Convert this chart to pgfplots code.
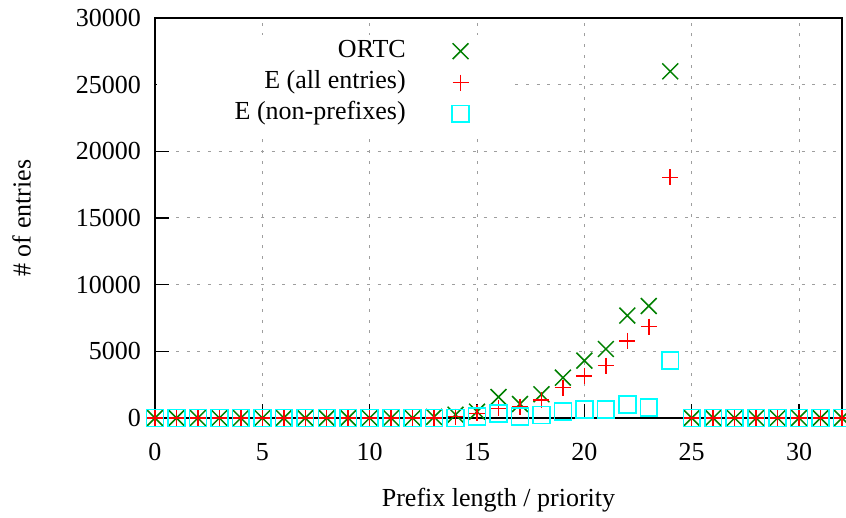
\documentclass[border=0pt]{standalone}
\usepackage{fontspec}
\setmainfont{Liberation Serif}
\usepackage{pgfplots}
\pgfplotsset{compat=1.18}
\definecolor{gpgreen}{RGB}{0,128,0}
\definecolor{gpred}{RGB}{255,0,0}
\definecolor{gpcyan}{RGB}{0,255,255}
\pgfplotstableread{
x ortc eall enon
0 0 0 0
1 0 0 0
2 0 0 0
3 0 0 0
4 0 0 0
5 0 0 0
6 0 0 0
7 0 0 0
8 0 0 0
9 0 0 0
10 0 0 0
11 0 0 0
12 0 0 0
13 80 0 0
14 250 100 0
15 475 350 100
16 1575 725 350
17 1050 850 100
18 1780 1350 225
19 3025 2275 475
20 4300 3150 650
21 5175 3925 650
22 7680 5775 1025
23 8400 6850 775
24 26000 18050 4300
25 0 0 0
26 0 0 0
27 0 0 0
28 0 0 0
29 0 0 0
30 0 0 0
31 0 0 0
32 0 0 0
}\datatable
\begin{document}
\begin{tikzpicture}
\begin{axis}[
  name=ax,
  width=343.5pt, height=200pt, scale only axis,
  xmin=0, xmax=32, ymin=0, ymax=30000,
  xtick={0,5,...,30}, ytick={0,5000,...,30000},
  scaled y ticks=false,
  /pgf/number format/1000 sep={},
  /pgf/number format/assume math mode=true,
  tick pos=left, tick align=inside, major tick length=7pt,
  tick style={black, line width=0.6pt},
  axis line style={black, line width=0.7pt},
  grid=major,
  major grid style={draw=black!38, line width=0.5pt, dash pattern=on 1.5pt off 3.8pt},
  every tick label/.append style={font=\fontsize{13}{15}\selectfont},
  xticklabel style={yshift=-9.2pt},
  yticklabel style={xshift=-3.5pt},
  label style={font=\fontsize{13}{15}\selectfont},
  xlabel={Prefix length / priority},
  ylabel={\# of entries},
  xlabel style={at={(axis description cs:0.5,0)}, anchor=center, yshift=-41pt},
  ylabel style={at={(axis description cs:0,0.5)}, anchor=center, yshift=66.7pt},
  legend style={at={(0.4576,0.948)}, anchor=north east, draw=none, fill=none,
    inner sep=0pt, column sep=23.2pt, row sep=3.65pt,
    font=\fontsize{13}{15}\selectfont,
    nodes={inner sep=0pt, text height=9pt, text depth=3pt}},
  legend plot pos=right,
  legend cell align=right,
]
\fill[white] (axis cs:0.08,21230) rectangle (axis cs:16.57,28730);
\addplot[only marks, mark=x, mark size=5.6pt, color=gpgreen, mark options={line width=0.75pt}] table[x=x,y=ortc] {\datatable};
\addlegendentry{ORTC}
\addplot[only marks, mark=+, mark size=4pt, color=gpred, mark options={line width=0.75pt}] table[x=x,y=eall] {\datatable};
\addlegendentry{E (all entries)}
\addplot[only marks, mark=square, mark size=4.2pt, color=gpcyan, mark options={line width=0.8pt}] table[x=x,y=enon] {\datatable};
\addlegendentry{E (non-prefixes)}
\end{axis}
\pgfresetboundingbox
\path[use as bounding box] (ax.south west) ++(-77.5pt,-50pt) rectangle ++(423pt,259pt);
\end{tikzpicture}
\end{document}
